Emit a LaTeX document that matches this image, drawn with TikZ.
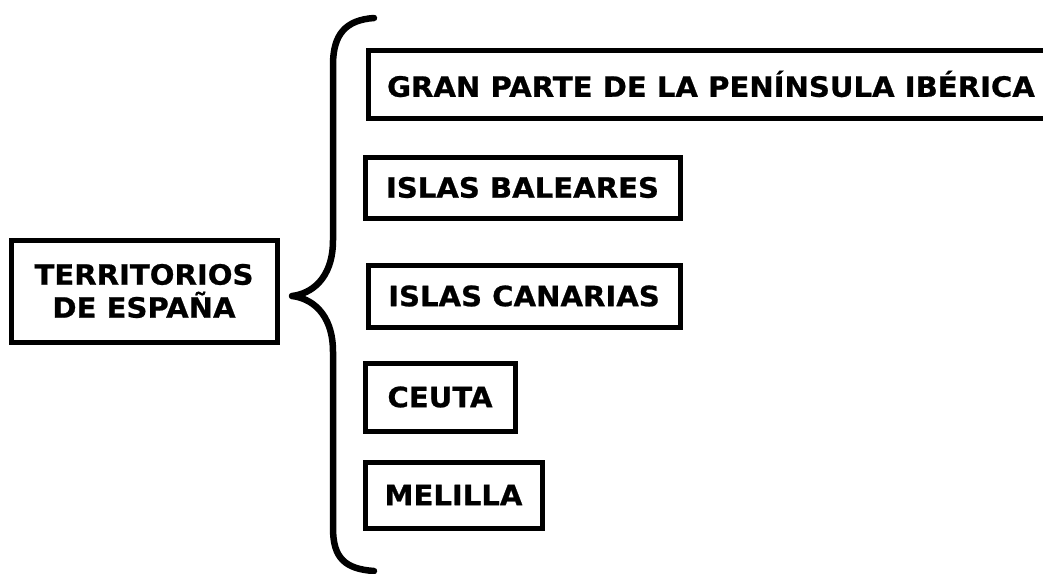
\documentclass[tikz,border=0pt]{standalone}
\usepackage{fontspec}
\setmainfont[FakeStretch=1.04, BoldFeatures={FakeBold=0.8}]{DejaVu Sans}
\begin{document}
\begin{tikzpicture}[x=1pt,y=-1pt,
  box/.style={draw=black, line width=5pt, rectangle, inner sep=0pt, align=center,
    font=\bfseries\fontsize{28}{33}\selectfont, text=black},
  bracestyle/.style={draw=black, line width=6.5pt, line cap=round, line join=round}]
\useasboundingbox (0,0) rectangle (1043,573);
\node[box, minimum width=266pt, minimum height=102pt] (root) at (144,291) {TERRITORIOS\\DE ESPAÑA};
\node[box, minimum width=686pt, minimum height=68pt] (pen) at (711,84) {GRAN PARTE DE LA PENÍNSULA IBÉRICA};
\node[box, minimum width=315pt, minimum height=61pt] (bal) at (522.5,187.5) {ISLAS BALEARES};
\node[box, minimum width=312pt, minimum height=62pt] (can) at (524,296) {ISLAS CANARIAS};
\node[box, minimum width=150pt, minimum height=68pt] (ceu) at (440,397) {CEUTA};
\node[box, minimum width=177pt, minimum height=66pt] (mel) at (453.5,495) {MELILLA};
\coordinate (btop) at (374,18);
\coordinate (btip) at (292,296);
\coordinate (bbot) at (374,571);
\draw[bracestyle] (btop) .. controls (345,20) and (333,35) .. (333,65)
  -- (333,240) .. controls (333,280) and (310,294) .. (btip)
  .. controls (310,298) and (333,312) .. (333,352)
  -- (333,528) .. controls (333,558) and (345,569) .. (bbot);
\end{tikzpicture}
\end{document}
